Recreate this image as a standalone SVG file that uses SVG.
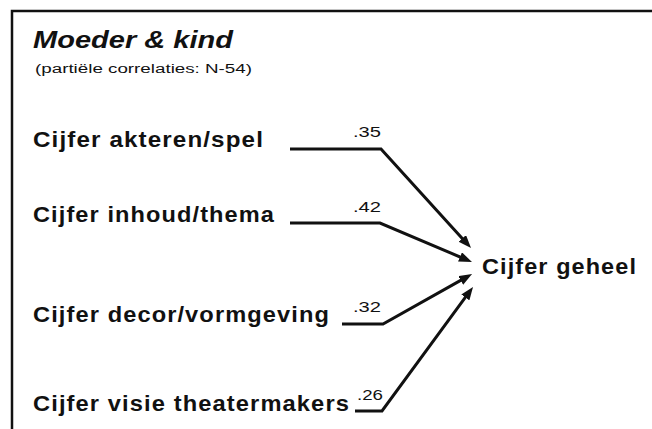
<svg xmlns="http://www.w3.org/2000/svg" width="652" height="429" viewBox="0 0 652 429">
<style>
.lbl{font-family:"Liberation Sans",Arial,sans-serif;font-weight:bold;font-size:21.5px;letter-spacing:1px;fill:#111}
.num{font-family:"Liberation Sans",Arial,sans-serif;font-size:15px;fill:#111}
.conn{fill:none;stroke:#111;stroke-width:3;stroke-linejoin:miter}
</style>
<defs>
<marker id="arr" markerUnits="userSpaceOnUse" markerWidth="14" markerHeight="11" refX="4" refY="5" orient="auto">
<path d="M0,0 L13,5 L0,10 z" fill="#111"/>
</marker>
</defs>
<rect width="652" height="429" fill="#fff"/>
<g id="frame">
<path d="M12,429 V11 H652" fill="none" stroke="#111" stroke-width="2.5"/>
</g>
<g id="title">
<text x="33" y="48" font-family="Liberation Sans,Arial,sans-serif" font-weight="bold" font-style="italic" font-size="23" fill="#111" textLength="200" lengthAdjust="spacingAndGlyphs">Moeder &amp; kind</text>
<text x="35" y="73" font-family="Liberation Sans,Arial,sans-serif" font-size="12" fill="#111" textLength="217" lengthAdjust="spacingAndGlyphs">(partiële correlaties: N-54)</text>
</g>
<g id="connectors">
<path class="conn" d="M290,149 H381 L465,241.4" marker-end="url(#arr)"/>
<path class="conn" d="M290,223 H380 L463.7,258.5" marker-end="url(#arr)"/>
<path class="conn" d="M342,324 H383 L464.2,278.4" marker-end="url(#arr)"/>
<path class="conn" d="M355,411 H382 L467.7,294.2" marker-end="url(#arr)"/>
<text x="353" y="137" class="num" textLength="28" lengthAdjust="spacingAndGlyphs">.35</text>
<text x="353" y="212" class="num" textLength="28" lengthAdjust="spacingAndGlyphs">.42</text>
<text x="353" y="312" class="num" textLength="28" lengthAdjust="spacingAndGlyphs">.32</text>
<text x="357" y="400" class="num" textLength="26" lengthAdjust="spacingAndGlyphs">.26</text>
</g>
<g id="node-akteren"><text x="33" y="147" class="lbl" textLength="231" lengthAdjust="spacingAndGlyphs">Cijfer akteren/spel</text></g>
<g id="node-inhoud"><text x="33" y="222" class="lbl" textLength="242" lengthAdjust="spacingAndGlyphs">Cijfer inhoud/thema</text></g>
<g id="node-decor"><text x="33" y="322" class="lbl" textLength="297" lengthAdjust="spacingAndGlyphs">Cijfer decor/vormgeving</text></g>
<g id="node-visie"><text x="33" y="411" class="lbl" textLength="317" lengthAdjust="spacingAndGlyphs">Cijfer visie theatermakers</text></g>
<g id="node-geheel"><text x="482" y="274" class="lbl" textLength="155" lengthAdjust="spacingAndGlyphs">Cijfer geheel</text></g>
</svg>
